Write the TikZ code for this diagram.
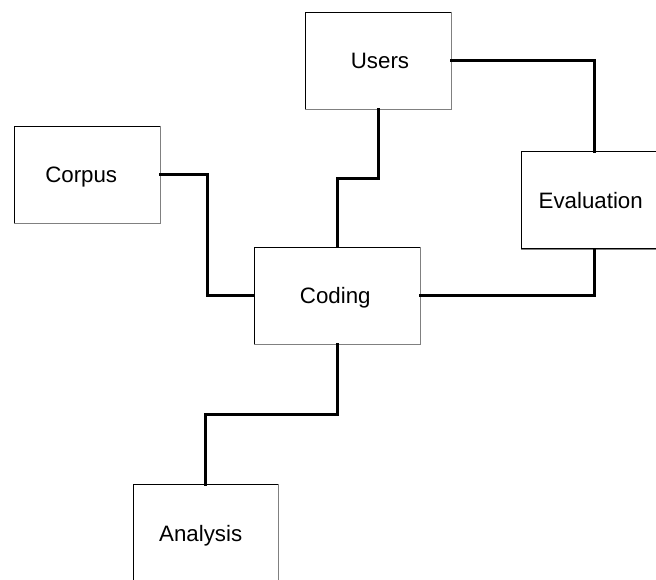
\documentclass[tikz,border=0pt]{standalone}
\usepackage{fontspec}
\setmainfont{Liberation Sans}
\begin{document}
\begin{tikzpicture}[x=1pt,y=-1pt,
  box/.style={draw=black, line width=1pt, fill=white, inner sep=0pt,
    minimum height=97pt},
  txt/.style={font=\fontsize{22.3}{26}\selectfont, inner sep=0pt,
    text height=16pt, text depth=0pt},
  link/.style={line width=3pt, line cap=rect}]
  \useasboundingbox (0,0) rectangle (656,579);
  \clip (0,0) rectangle (656,579);

  % boxes, each with its caption set slightly left of centre
  \node[box, minimum width=146pt,
    label={[txt, xshift=2pt]center:Users}] (users) at (378,60.5) {};
  \node[box, minimum width=146pt,
    label={[txt, xshift=-6pt]center:Corpus}] (corpus) at (87.2,174.5) {};
  \node[box, minimum width=146pt,
    label={[txt, xshift=-4pt]center:Evaluation}] (eval) at (594.7,200.4) {};
  \node[box, minimum width=166pt,
    label={[txt, xshift=-2pt]center:Coding}] (coding) at (337.3,295.8) {};
  \node[box, minimum width=145pt,
    label={[txt, xshift=-5pt]center:Analysis}] (analysis) at (205.7,533.2) {};

  % shaded right and bottom edges
  \foreach \n in {users,corpus,eval,coding,analysis}
    \draw[gray, line width=1pt] (\n.north east) -- (\n.south east) -- (\n.south west);

  % connectors
  \draw[link] (users.east) -| (eval.north);
  \draw[link] (users.south) -- ++(0,69) -| (coding.north);
  \draw[link] (corpus.east) -- ++(47,0) |- (coding.west);
  \draw[link] (coding.east) -| (eval.south);
  \draw[link] (coding.south) -- ++(0,70) -| (analysis.north);
\end{tikzpicture}
\end{document}
